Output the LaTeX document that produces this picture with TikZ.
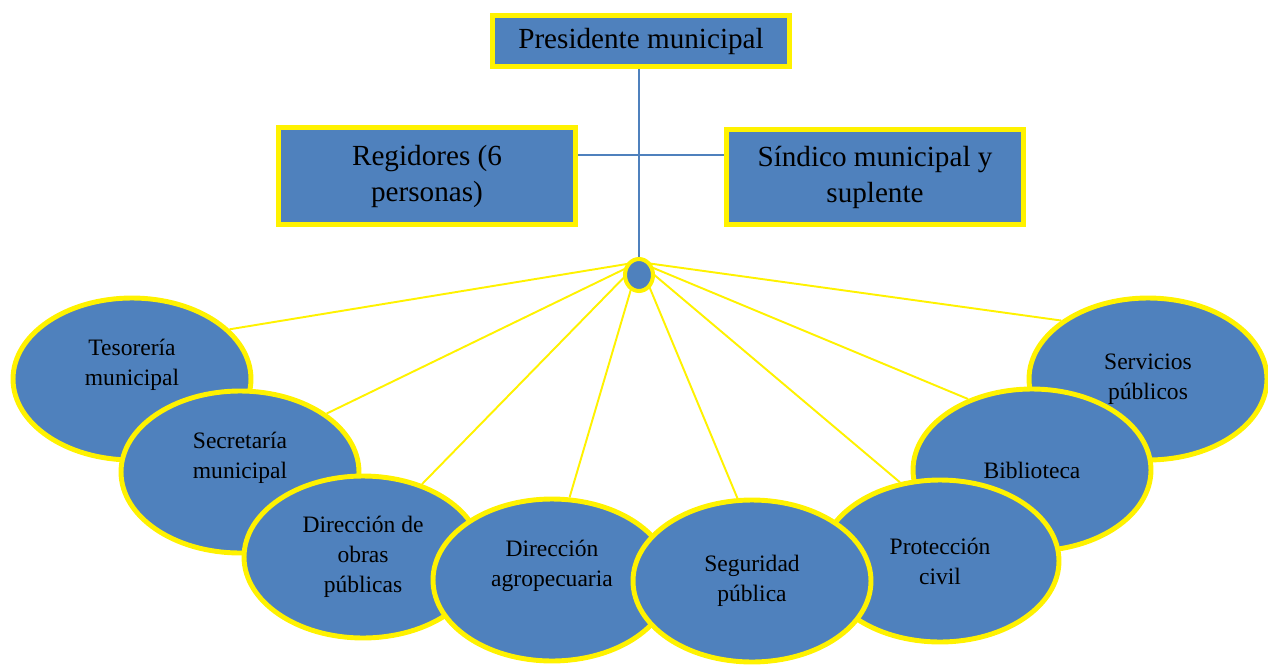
\documentclass[tikz,border=0pt]{standalone}
\usepackage{fontspec}
\setmainfont{Liberation Serif}
\usetikzlibrary{shapes.geometric}
\definecolor{office}{HTML}{4F81BD}

\begin{document}
\begin{tikzpicture}[x=0.02cm,y=-0.02cm,
    box/.style={draw=yellow,line width=2.8pt,fill=office,minimum width=5.94cm,
      align=center,font=\fontsize{16.6}{20.5}\selectfont},
    unit/.style={ellipse,draw=yellow,line width=2.8pt,fill=office,minimum width=4.76cm,
      minimum height=3.24cm,inner sep=0pt,align=center,font=\fontsize{13.4}{17}\selectfont},
    lift/.style={text depth=19pt},
    ray/.style={yellow,line width=1.1pt},
    stem/.style={office,line width=1.2pt}]
    \useasboundingbox (0,0) rectangle (1268,666);
    \node[box,minimum height=1.02cm] (pres) at (641,41) {Presidente municipal};
    \node[box,minimum height=1.94cm] (reg) at (427,176) {Regidores (6\\personas)};
    \node[box,minimum height=1.9cm] (sin) at (875,177) {Síndico municipal y\\suplente};
    \node[unit,lift] (tes) at (132,379) {Tesorería\\municipal};
    \node[unit,lift] (sec) at (240,472) {Secretaría\\municipal};
    \node[unit] (obr) at (363,557) {Dirección de\\obras\\públicas};
    \node[unit,lift] (agr) at (552,580) {Dirección\\agropecuaria};
    \node[unit] (ser) at (1148,379) {Servicios\\públicos};
    \node[unit] (bib) at (1032,470) {Biblioteca};
    \node[unit] (pro) at (940,561) {Protección\\civil};
    \node[unit] (seg) at (752,581) {Seguridad\\pública};
    \coordinate (apex) at (639,262);
    \draw[ray] (apex) -- (tes.27) (apex) -- (sec.34) (apex) -- (obr.51) (apex) -- (agr.78)
      (apex) -- (seg.100) (apex) -- (pro.117) (apex) -- (bib.132) (apex) -- (ser.146);
    \node[ellipse,draw=yellow,line width=2.3pt,fill=office,minimum width=0.56cm,
      minimum height=0.64cm,inner sep=0pt] (hub) at (639,275) {};
    \draw[stem] (hub.north |- pres.south) -- (hub.north);
    \draw[stem] (reg.8) -- (reg.8 -| sin.west);
\end{tikzpicture}
\end{document}
